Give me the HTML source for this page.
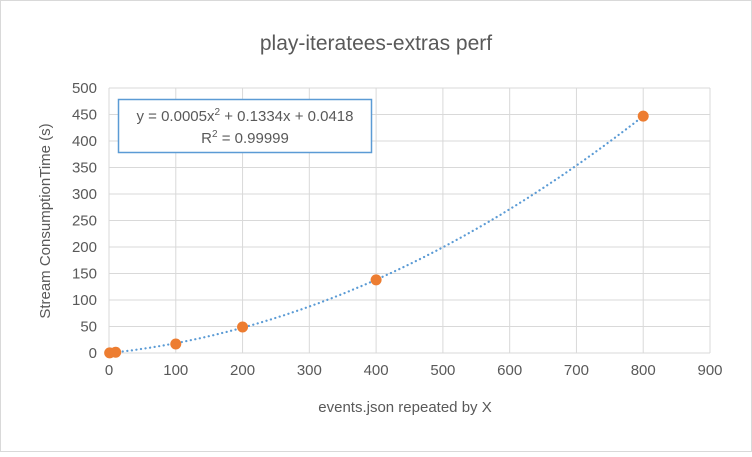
<!DOCTYPE html>
<html><head><meta charset="utf-8"><style>
body{margin:0;background:#fff;font-family:"Liberation Sans",sans-serif}
</style></head><body>
<svg id="c" width="752" height="452" xmlns="http://www.w3.org/2000/svg">
<rect x="0.5" y="0.5" width="751" height="451" fill="#fff" stroke="#d9d9d9"/>
<text x="376" y="50" text-anchor="middle" font-size="21" fill="#595959">play-iteratees-extras perf</text>
<g id="grid"></g><g id="curve"></g><g id="pts"></g>
<text x="405" y="412" text-anchor="middle" font-size="15" fill="#595959">events.json repeated by X</text>
<text transform="translate(50,221) rotate(-90)" text-anchor="middle" font-size="15" fill="#595959">Stream ConsumptionTime (s)</text>
<g>
<rect x="118.5" y="99.5" width="253" height="53" fill="#fff" stroke="#5b9bd5" stroke-width="1.5"/>
<text x="245" y="121" text-anchor="middle" font-size="15" fill="#595959">y = 0.0005x<tspan font-size="10" dy="-6">2</tspan><tspan dy="6"> + 0.1334x + 0.0418</tspan></text>
<text x="245" y="143" text-anchor="middle" font-size="15" fill="#595959">R<tspan font-size="10" dy="-6">2</tspan><tspan dy="6"> = 0.99999</tspan></text>
</g>
</svg>
<script>
const xTicks=[0,100,200,300,400,500,600,700,800,900];
const yTicks=[0,50,100,150,200,250,300,350,400,450,500];
const xVals=[1,10,100,200,400,800];
const yVals=[0.3,1.5,17,49,138,447];
const X0=109,X1=710,Y0=353,Y1=88;
const sx=v=>X0+(v-0)/(900)*(X1-X0);
const sy=v=>Y0-(v/500)*(Y0-Y1);
const NS="http://www.w3.org/2000/svg";
function mk(t,a,p){const e=document.createElementNS(NS,t);for(const k in a)e.setAttribute(k,a[k]);p.appendChild(e);return e;}
const g=document.getElementById('grid');
xTicks.forEach(v=>{
 const l=mk('line',{x1:sx(v),x2:sx(v),y1:Y1,y2:Y0,stroke:'#d9d9d9'},g);
 
 
 const t=mk('text',{x:sx(v),y:Y0+22,'text-anchor':'middle','font-size':15,fill:'#595959'},g);t.textContent=v;
 
 
});
yTicks.forEach(v=>{
 const l=mk('line',{x1:X0,x2:X1,y1:sy(v),y2:sy(v),stroke:'#d9d9d9'},g);
 
 
 const t=mk('text',{x:X0-12,y:sy(v)+5,'text-anchor':'end','font-size':15,fill:'#595959'},g);t.textContent=v;
 
 
});
function fit(xs,ys){let S=[0,0,0,0,0],T=[0,0,0];xs.forEach((x,i)=>{for(let k=0;k<5;k++)S[k]+=x**k;for(let k=0;k<3;k++)T[k]+=ys[i]*x**k;});
 const A=[[S[0],S[1],S[2],T[0]],[S[1],S[2],S[3],T[1]],[S[2],S[3],S[4],T[2]]];
 for(let i=0;i<3;i++){for(let j=i+1;j<3;j++){const f=A[j][i]/A[i][i];for(let k=i;k<4;k++)A[j][k]-=f*A[i][k];}}
 const c=[0,0,0];for(let i=2;i>=0;i--){let s=A[i][3];for(let k=i+1;k<3;k++)s-=A[i][k]*c[k];c[i]=s/A[i][i];}return c;}
const c=fit(xVals,yVals);
let d='';for(let x=0;x<=800;x+=5){const y=c[0]+c[1]*x+c[2]*x*x;d+=(x?'L':'M')+sx(x).toFixed(1)+','+sy(y).toFixed(1);}
const p=mk('path',{d:d,fill:'none',stroke:'#5b9bd5','stroke-width':2.2,'stroke-dasharray':'0.1 4.5','stroke-linecap':'round'},document.getElementById('curve'));


const pg=document.getElementById('pts');
xVals.forEach((x,i)=>{
 const e=mk('circle',{cx:sx(x),cy:sy(yVals[i]),r:5.5,fill:'#ed7d31'},pg);
 
 
});
</script>
</body></html>
